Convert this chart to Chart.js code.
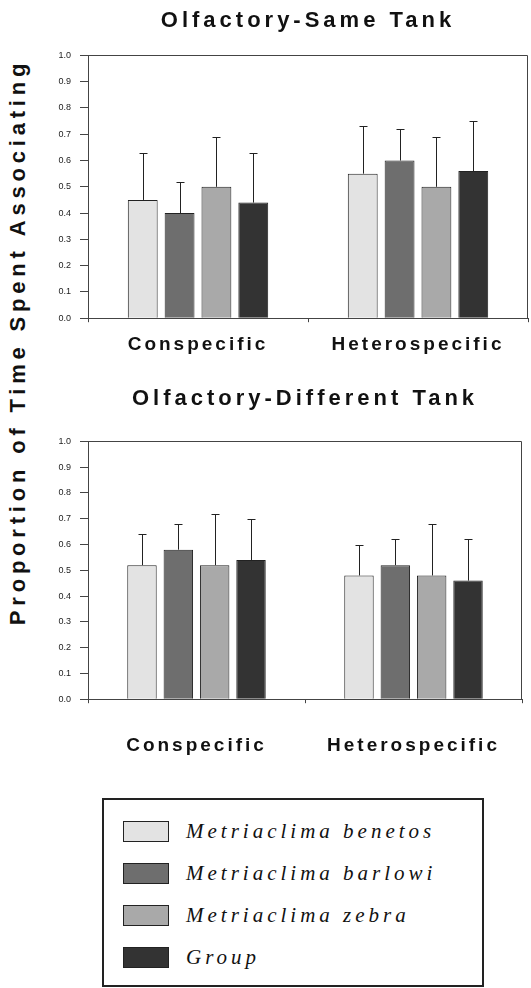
<!DOCTYPE html>
<html lang="en">
<head>
    <meta charset="UTF-8">
    <title>Olfactory association</title>
    <script src="https://cdn.jsdelivr.net/npm/chart.js"></script>
    <style>
        body {
            margin: 0;
            background: #fff;
            width: 531px;
            height: 988px;
            position: relative;
            overflow: hidden;
            font-family: 'Liberation Sans', Arial, sans-serif;
            color: #111;
        }
        canvas {
            position: absolute;
            left: 0;
        }
        #chartSame { top: 0; }
        #chartDiff { top: 370px; }
        .y-title {
            position: absolute;
            left: 18px;
            top: 342px;
            transform: translate(-50%, -50%) rotate(-90deg);
            white-space: nowrap;
            font-weight: bold;
            font-size: 22px;
            letter-spacing: 4.8px;
        }
        .legend {
            position: absolute;
            left: 102px;
            top: 798px;
            width: 378px;
            height: 185px;
            border: 2px solid #222;
        }
        .legend-item {
            position: absolute;
            left: 19px;
            height: 22px;
            display: flex;
            align-items: center;
        }
        .legend-item span.box {
            width: 44px;
            height: 19px;
            border: 1.5px solid #222;
            margin-right: 17px;
        }
        .legend-item span.name {
            font-family: 'Liberation Serif', 'Times New Roman', serif;
            font-style: italic;
            font-size: 21px;
            letter-spacing: 4px;
        }
    </style>
</head>
<body>
    <div class="y-title">Proportion of Time Spent Associating</div>
    <canvas id="chartSame" width="531" height="367"></canvas>
    <canvas id="chartDiff" width="531" height="418"></canvas>
    <div class="legend" id="legend"></div>

    <script>
        // Data: [conspecific, heterospecific] per species
        const categories = ['Conspecific', 'Heterospecific'];
        const species = ['Metriaclima benetos', 'Metriaclima barlowi', 'Metriaclima zebra', 'Group'];
        const colors = ['#e3e3e3', '#6e6e6e', '#a9a9a9', '#333333'];

        const sameTankMean = [[0.45, 0.55], [0.40, 0.60], [0.50, 0.50], [0.44, 0.56]];
        const sameTankErr = [[0.18, 0.18], [0.12, 0.12], [0.19, 0.19], [0.19, 0.19]];
        const diffTankMean = [[0.52, 0.48], [0.58, 0.52], [0.52, 0.48], [0.54, 0.46]];
        const diffTankErr = [[0.12, 0.12], [0.10, 0.10], [0.20, 0.20], [0.16, 0.16]];

        const fontFamily = "'Liberation Sans', Arial, sans-serif";

        // wide letter spacing for the bold headings and category labels
        const spacedText = {
            id: 'spacedText',
            beforeInit(chart) {
                const ctx = chart.ctx;
                const fill = ctx.fillText;
                ctx.fillText = function (t, x, y, w) {
                    const m = /bold (\d+)px/.exec(this.font);
                    this.letterSpacing = m ? (+m[1] >= 20 ? '4px' : '3px') : '0px';
                    if (w === undefined) fill.call(this, t, x, y);
                    else fill.call(this, t, x, y, w);
                };
            }
        };

        // upper error bars
        const errorBars = {
            id: 'errorBars',
            afterDatasetsDraw(chart) {
                const ctx = chart.ctx;
                const y = chart.scales.y;
                chart.data.datasets.forEach((ds, i) => {
                    chart.getDatasetMeta(i).data.forEach((bar, j) => {
                        const x = Math.round(bar.x) + 0.5;
                        const top = Math.round(y.getPixelForValue(ds.data[j] + ds.errors[j])) + 0.5;
                        ctx.save();
                        ctx.strokeStyle = '#222';
                        ctx.lineWidth = 1;
                        ctx.beginPath();
                        ctx.moveTo(x, bar.y);
                        ctx.lineTo(x, top);
                        ctx.moveTo(x - 4, top);
                        ctx.lineTo(x + 4, top);
                        ctx.stroke();
                        ctx.restore();
                    });
                });
            }
        };

        // top and right edges of the plot frame
        const frame = {
            id: 'frame',
            afterDraw(chart) {
                const a = chart.chartArea;
                const ctx = chart.ctx;
                ctx.save();
                ctx.strokeStyle = '#444';
                ctx.lineWidth = 1;
                ctx.beginPath();
                ctx.moveTo(a.left, Math.round(a.top) + 0.5);
                ctx.lineTo(Math.round(a.right) - 0.5, Math.round(a.top) + 0.5);
                ctx.lineTo(Math.round(a.right) - 0.5, a.bottom);
                ctx.stroke();
                ctx.restore();
            }
        };

        function makeChart(id, title, means, errs, pad) {
            return new Chart(document.getElementById(id), {
                type: 'bar',
                data: {
                    labels: categories,
                    datasets: species.map((name, i) => ({
                        label: name,
                        data: means[i],
                        errors: errs[i],
                        backgroundColor: colors[i],
                        borderColor: '#222',
                        borderWidth: 1,
                        categoryPercentage: 0.67,
                        barPercentage: 0.81
                    }))
                },
                options: {
                    responsive: false,
                    animation: false,
                    layout: { padding: { left: 40, right: pad.right, top: 0, bottom: 0 } },
                    scales: {
                        x: {
                            grid: { drawOnChartArea: false, tickLength: 4, color: '#444' },
                            border: { color: '#444' },
                            ticks: {
                                color: '#111',
                                padding: pad.label,
                                maxRotation: 0,
                                font: { family: fontFamily, size: 19, weight: 'bold' }
                            }
                        },
                        y: {
                            min: 0,
                            max: 1,
                            afterFit(scale) { scale.width = 48; },
                            grid: { drawOnChartArea: false, tickLength: 8, color: '#444' },
                            border: { color: '#444' },
                            ticks: {
                                stepSize: 0.1,
                                padding: 9,
                                color: '#222',
                                font: { family: fontFamily, size: 9 },
                                callback: v => v.toFixed(1)
                            }
                        }
                    },
                    plugins: {
                        legend: { display: false },
                        tooltip: { enabled: false },
                        title: {
                            display: true,
                            text: title,
                            fullSize: false,
                            color: '#111',
                            font: { family: fontFamily, size: 22, weight: 'bold' },
                            padding: { top: pad.titleTop, bottom: pad.titleBottom }
                        }
                    }
                },
                plugins: [spacedText, errorBars, frame]
            });
        }

        makeChart('chartSame', 'Olfactory-Same Tank', sameTankMean, sameTankErr,
            { right: 3, titleTop: 8, titleBottom: 21, label: 11 });
        makeChart('chartDiff', 'Olfactory-Different Tank', diffTankMean, diffTankErr,
            { right: 9, titleTop: 16, titleBottom: 29, label: 31 });

        // legend box
        const legend = document.getElementById('legend');
        species.forEach((name, i) => {
            const item = document.createElement('div');
            item.className = 'legend-item';
            item.style.top = (20 + i * 42) + 'px';
            item.innerHTML = '<span class="box" style="background:' + colors[i] + '"></span><span class="name">' + name + '</span>';
            legend.appendChild(item);
        });
    </script>
</body>
</html>
